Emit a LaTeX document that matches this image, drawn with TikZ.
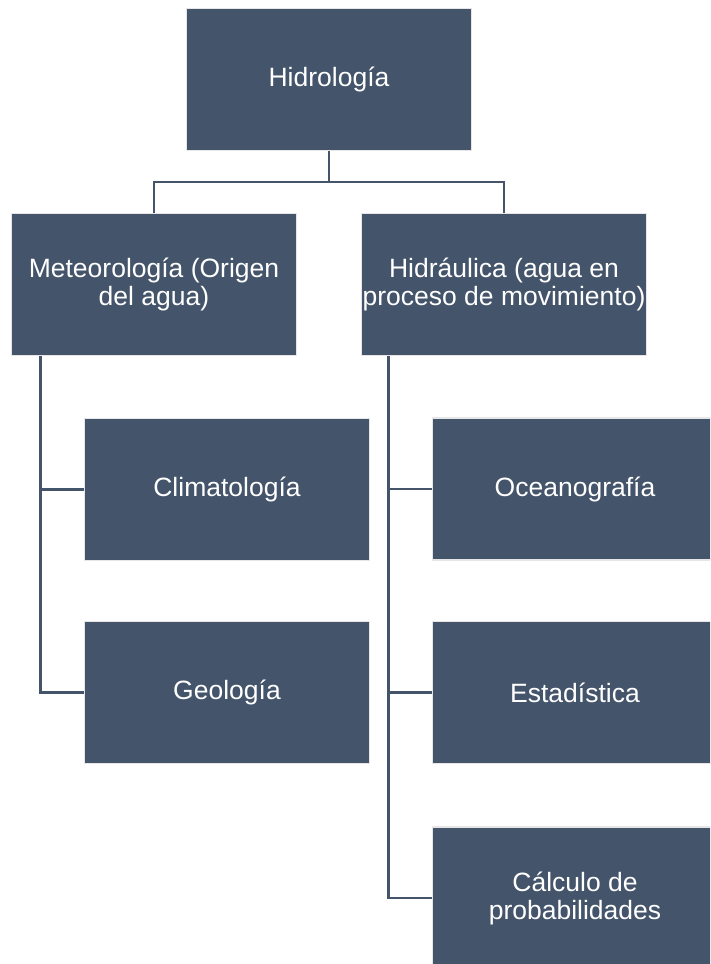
\documentclass[tikz,border=0pt]{standalone}
\usepackage{fontspec}
\setmainfont{Liberation Sans}
\usepackage{tikz}

\definecolor{slate}{HTML}{44546A}
\definecolor{rim}{HTML}{E6E6E6}

\begin{document}
\begin{tikzpicture}[x=1pt,y=-1pt,
		box/.style={draw=rim,line width=1.5pt,fill=slate,text=white,
			minimum width=285pt,minimum height=142pt,inner sep=0pt,
			align=center,font=\fontsize{26.5}{28}\selectfont},
		link/.style={draw=slate,line width=2.6pt}]
			\useasboundingbox (0,0) rectangle (710,964);
			\clip (0,0) rectangle (710,964);
			
			\node[box] (hidro) at (329,79.5) {Hidrología};
			\node[box] (meteo) at (154,284.5) {Meteorología (Origen\\del agua)};
			\node[box] (hidra) at (504,284.5) {Hidráulica (agua en\\proceso de movimiento)};
			
			\node[box] (clima) at (227,489.5) {Climatología};
			\node[box] (geo) at (227,692.5) {Geología};
			
			\node[box] (ocea) at (575,489) {Oceanografía};
			\node[box] (esta) at (575,692.5) {Estadística};
			\node[box] (calc) at (575,898) {Cálculo de\\probabilidades};
			
			\coordinate (bus) at (329,182);
			\draw[link] (hidro.south) -- (bus) -| (meteo.north);
			\draw[link] (bus) -| (hidra.north);
			
			\coordinate (tl) at ([xshift=30pt]meteo.south west);
			\draw[link] (tl) |- (clima.west);
			\draw[link] (tl) |- (geo.west);
			
			\coordinate (tr) at ([xshift=28pt]hidra.south west);
			\draw[link] (tr) |- (ocea.west);
			\draw[link] (tr) |- (esta.west);
			\draw[link] (tr) |- (calc.west);
		\end{tikzpicture}
\end{document}
